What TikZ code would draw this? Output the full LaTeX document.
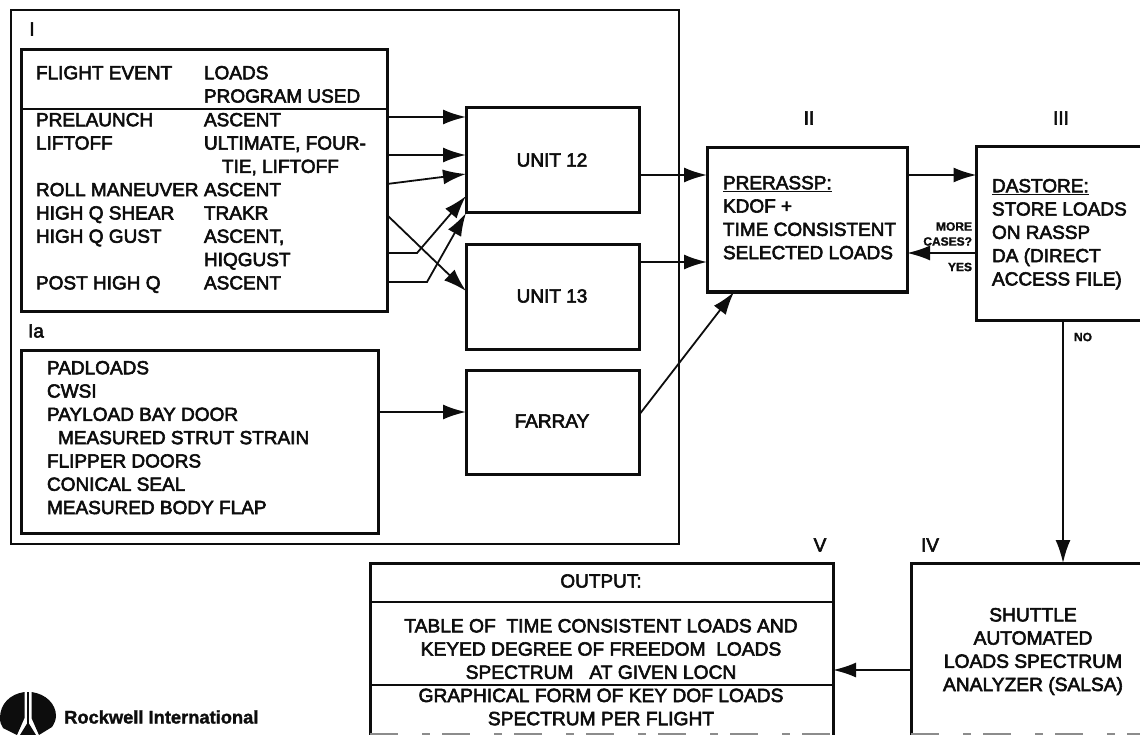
\documentclass[tikz,border=0pt]{standalone}
\usepackage{fontspec}
\usetikzlibrary{arrows.meta}
\newfontfamily\scanfont[FakeBold=3]{Liberation Sans}
\newfontfamily\scanbold[FakeBold=1.5]{Liberation Sans Bold}
\definecolor{ink}{gray}{0.05}
\tikzset{
  boxa/.style={draw=ink,line width=3pt,inner sep=0pt,outer sep=0pt},
  frame/.style={draw=ink,line width=1.8pt,inner sep=0pt,outer sep=0pt},
  rule/.style={draw=ink,line width=1.8pt},
  faint/.style={draw=black!45,line width=1.6pt,dash pattern=on 28pt off 24pt on 8pt off 12pt},
  arr/.style={draw=ink,line width=1.8pt,-{Latex[length=23pt,width=15pt]}},
  txt/.style={text=ink,inner sep=0pt,outer sep=0pt,align=left,anchor=north west,font=\scanfont\fontsize{19}{23.3}\selectfont},
  ctr/.style={text=ink,inner sep=0pt,outer sep=0pt,align=center,anchor=north,font=\scanfont\fontsize{19.2}{23.2}\selectfont},
  lab/.style={text=ink,inner sep=0pt,outer sep=0pt,font=\scanfont\fontsize{19}{20}\selectfont},
  small/.style={text=ink,inner sep=0pt,outer sep=0pt,align=right,anchor=east,font=\scanbold\fontsize{12}{15}\selectfont},
}
\begin{document}
\begin{tikzpicture}[x=1pt,y=-1pt]
\useasboundingbox (0,0) rectangle (1140,735);
\clip (0,0) rectangle (1140,735);
% frames and boxes
\node[frame,minimum width=668pt,minimum height=534pt] (outer) at (345,277) {};
\node[boxa,minimum width=366pt,minimum height=261pt] (boxI) at (204,180.5) {};
\node[boxa,minimum width=357pt,minimum height=183pt] (boxIa) at (199.5,441.5) {};
\node[boxa,minimum width=173pt,minimum height=105pt] (u12) at (552.5,160.5) {};
\node[boxa,minimum width=173pt,minimum height=104pt] (u13) at (552.5,297) {};
\node[boxa,minimum width=173pt,minimum height=104pt] (far) at (552.5,422) {};
\node[boxa,minimum width=200pt,minimum height=144pt] (pre) at (807,220) {};
\node[boxa,minimum width=165pt,minimum height=173pt] (das) at (1059,233.5) {};
\node[boxa,minimum width=463pt,minimum height=177pt] (out) at (601.5,651.5) {};
\node[boxa,minimum width=260pt,minimum height=177pt] (salsa) at (1041,651.5) {};
% rules inside boxes
\draw[rule] (boxI.west |- 0,109) -- (boxI.east |- 0,109);
\draw[rule] (out.west |- 0,602) -- (out.east |- 0,602);
\draw[rule,line width=2.4pt] (out.west |- 0,685) -- (out.east |- 0,685);
\draw[faint] (out.west |- 0,734) -- (out.east |- 0,734);
\draw[faint] (salsa.west |- 0,734) -- (1140,734);
% text
\node[lab] (lI) at (32,29) {I};
\node[lab] (lIa) at (36,331) {Ia};
\node[lab] (lII) at (809,118) {II};
\node[lab] (lIII) at (1061,118) {III};
\node[lab] (lV) at (820,545) {V};
\node[lab] (lIV) at (930,545) {IV};
\node[txt] (c1a) at (36,66) {FLIGHT EVENT};
\node[txt] (c2a) at (204,66) {LOADS\\PROGRAM USED};
\node[txt] (c1b) at (36,113) {PRELAUNCH\\LIFTOFF\\~\\ROLL MANEUVER\\HIGH Q SHEAR\\HIGH Q GUST\\~\\POST HIGH Q};
\node[txt] (c2b) at (204,113) {ASCENT\\ULTIMATE, FOUR-\\\hspace*{18pt}TIE, LIFTOFF\\ASCENT\\TRAKR\\ASCENT,\\HIQGUST\\ASCENT};
\node[txt] (padl) at (47,361) {PADLOADS\\CWSI\\PAYLOAD BAY DOOR\\\hspace*{11pt}MEASURED STRUT STRAIN\\FLIPPER DOORS\\CONICAL SEAL\\MEASURED BODY FLAP};
\node[lab] (t12) at (552,160) {UNIT 12};
\node[lab] (t13) at (552,296) {UNIT 13};
\node[lab] (tfar) at (552,421) {FARRAY};
\node[txt] (tpre) at (723,176) {\underline{PRERASSP:}\\KDOF +\\TIME CONSISTENT\\SELECTED LOADS};
\node[txt] (tdas) at (992,179) {\underline{DASTORE:}\\STORE LOADS\\ON RASSP\\DA (DIRECT\\ACCESS FILE)};
\node[small] (tmore) at (972,234) {MORE\\CASES?};
\node[small] (tyes) at (972,267) {YES};
\node[small,anchor=center] (tno) at (1083,337) {NO};
\node[lab] (toutp) at (601,581) {OUTPUT:};
\node[ctr] (ttab) at (601,619) {TABLE OF~~TIME CONSISTENT LOADS AND\\KEYED DEGREE OF FREEDOM~~LOADS\\SPECTRUM~~~AT GIVEN LOCN\\GRAPHICAL FORM OF KEY DOF LOADS\\SPECTRUM PER FLIGHT};
\node[ctr] (tsal) at (1033,608) {SHUTTLE\\AUTOMATED\\LOADS SPECTRUM\\ANALYZER (SALSA)};
% connectors
\draw[arr] (boxI.east |- 0,117) -- (u12.west |- 0,117);
\draw[arr] (boxI.east |- 0,155) -- (u12.west |- 0,155);
\draw[arr] (boxI.east |- 0,184) -- (u12.west |- 0,174);
\draw[arr] (boxI.east |- 0,215) -- (u13.west |- 0,291);
\draw[arr] (boxI.east |- 0,253) -- (417,253) -- (u12.west |- 0,196);
\draw[arr] (boxI.east |- 0,282) -- (427,282) -- (u12.south west);
\draw[arr] (boxIa.east |- 0,412) -- (far.west |- 0,412);
\draw[arr] (u12.east |- 0,175) -- (pre.west |- 0,175);
\draw[arr] (u13.east |- 0,262) -- (pre.west |- 0,262);
\draw[arr] (far.east |- 0,415) -- (734,292);
\draw[arr] (pre.east |- 0,175) -- (das.west |- 0,175);
\draw[arr] (das.west |- 0,253) -- (pre.east |- 0,253);
\draw[arr] (das.south -| 1063,0) -- (salsa.north -| 1063,0);
\draw[arr] (salsa.west |- 0,670) -- (out.east |- 0,670);
% logo
\fill[ink] (24.5,692) .. controls (10,694) and (0,704) .. (0,718) .. controls (0,722) and (1,725) .. (3,728) -- (17,735) -- (24.5,718) -- cycle;
\fill[ink] (31.5,692) .. controls (46,694) and (56,704) .. (56,716) .. controls (56,720) and (54,724) .. (52,727) -- (39,735) -- (31.5,718) -- cycle;
\fill[ink] (28,722) -- (36,735) -- (20,735) -- cycle;
\draw[ink,line width=1.2pt] (28,692) -- (28,724);
\node[text=ink,inner sep=0pt,anchor=west,font=\scanbold\fontsize{18.3}{20}\selectfont] (rock) at (64,717) {Rockwell International};
\end{tikzpicture}
\end{document}
